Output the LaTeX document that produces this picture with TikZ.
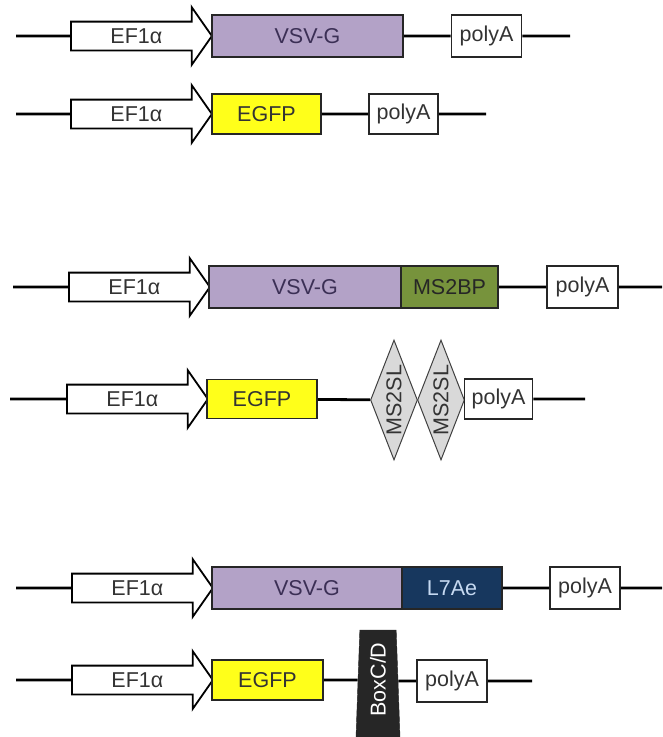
\documentclass[tikz,border=0pt]{standalone}
\usepackage{fontspec}
\setmainfont{Liberation Sans}
\usepackage{xcolor}
\usepackage{tikz}
\usetikzlibrary{shapes.geometric, shapes.arrows, positioning, calc}

\definecolor{vsvgfill}{HTML}{B3A2C7}
\definecolor{vsvgtext}{HTML}{3B2F55}
\definecolor{egfpfill}{HTML}{FFFF1A}
\definecolor{msbpfill}{HTML}{77933C}
\definecolor{lsevenfill}{HTML}{17375E}
\definecolor{lseventext}{HTML}{C6D9F1}
\definecolor{slfill}{HTML}{D9D9D9}
\definecolor{cdfill}{HTML}{262626}
\newcommand{\lblfont}{\fontsize{21.5}{25}\selectfont}

\begin{document}
\begin{tikzpicture}[x=1pt, y=-1pt,
    promoter/.style={single arrow, draw, fill=white, line width=1.8pt, single arrow head extend=14.5pt, single arrow tip angle=110, minimum height=141pt, text height=15pt, text depth=0pt, inner ysep=6pt, anchor=tail, font=\lblfont, text=black!80},
    gene/.style={rectangle, draw=black!85, line width=1.8pt, minimum height=42pt, inner sep=0pt, font=\lblfont},
    polya/.style={gene, fill=white, minimum width=70pt, text=black!80},
    stemloop/.style={diamond, aspect=2.55, draw=black!75, fill=slfill, line width=1pt, minimum width=120pt, minimum height=47pt, inner sep=0pt, rotate=90, font=\lblfont, text=black!80},
    boxcd/.style={trapezium, trapezium stretches=true, trapezium angle=84, draw=cdfill, fill=cdfill, minimum width=44pt, minimum height=107pt, inner sep=2pt},
    backbone/.style={line width=2.8pt}
]
    \useasboundingbox (0,0) rectangle (662,737);

    % VSV-G alone / EGFP alone
    \coordinate (s1) at (16,36);
    \node[promoter] (p1) at (70,36) {EF1α};
    \node[gene, fill=vsvgfill, text=vsvgtext, minimum width=191pt] (v1) at (307.5,36) {VSV-G};
    \node[polya] (a1) at (486.5,36) {polyA};
    \coordinate (e1) at (570,36);
    \draw[backbone] (s1) -- (p1) (v1) -- (a1) -- (e1);

    \coordinate (s2) at (16,114);
    \node[promoter] (p2) at (70,114) {EF1α};
    \node[gene, fill=egfpfill, text=black!80, minimum width=109pt, minimum height=40pt] (g2) at (266.5,114) {EGFP};
    \node[polya, minimum height=40pt, minimum width=69pt] (a2) at (403.5,114) {polyA};
    \coordinate (e2) at (486,114);
    \draw[backbone] (s2) -- (p2) (g2) -- (a2) -- (e2);

    % MS2BP / MS2SL pair
    \coordinate (s3) at (13,287);
    \node[promoter] (p3) at (68,287) {EF1α};
    \node[gene, fill=vsvgfill, text=vsvgtext, minimum width=192pt] (v3) at (305,287) {VSV-G};
    \node[gene, fill=msbpfill, text=black!85, minimum width=97pt] (m3) at (449.5,287) {MS2BP};
    \node[polya, minimum width=71pt] (a3) at (582.5,287) {polyA};
    \coordinate (e3) at (662,287);
    \draw[backbone] (s3) -- (p3) (m3) -- (a3) -- (e3);

    \coordinate (s4) at (10,399);
    \node[promoter] (p4) at (66,399) {EF1α};
    \node[gene, fill=egfpfill, text=black!80, minimum width=110pt, minimum height=39pt] (g4) at (262,399) {EGFP};
    \node[stemloop] (sl1) at (394,400) {MS2SL};
    \node[stemloop] (sl2) at (441,400) {MS2SL};
    \node[polya, minimum height=40pt, minimum width=68pt] (a4) at (498.5,399) {polyA};
    \coordinate (e4) at (585,399);
    \draw[backbone] (s4) -- (p4) (g4) -- (sl1) (a4) -- (e4);

    % L7Ae / BoxC/D pair
    \coordinate (s5) at (16,588);
    \node[promoter] (p5) at (71,588) {EF1α};
    \node[gene, fill=vsvgfill, text=vsvgtext, minimum width=190pt] (v5) at (307,588) {VSV-G};
    \node[gene, fill=lsevenfill, text=lseventext, minimum width=100pt] (l5) at (452,588) {L7Ae};
    \node[polya, minimum width=70pt] (a5) at (585,588) {polyA};
    \coordinate (e5) at (662,588);
    \draw[backbone] (s5) -- (p5) (l5) -- (a5) -- (e5);

    \coordinate (s6) at (16,680);
    \node[promoter] (p6) at (71,680) {EF1α};
    \node[gene, fill=egfpfill, text=black!80, minimum width=111pt, minimum height=40pt] (g6) at (267.5,680) {EGFP};
    \node[boxcd] (cd) at (378,683.5) {};
    \node[rotate=90, text=white, font=\lblfont] (cdlabel) at ([yshift=4pt]cd.center) {BoxC/D};
    \node[polya, minimum width=70pt] (a6) at (452,681) {polyA};
    \coordinate (e6) at (532,681);
    \draw[backbone] (s6) -- (p6) (g6.east) -- (g6.east -| cd.west) (cd.east |- a6.west) -- (a6.west) (a6) -- (e6);
\end{tikzpicture}
\end{document}
